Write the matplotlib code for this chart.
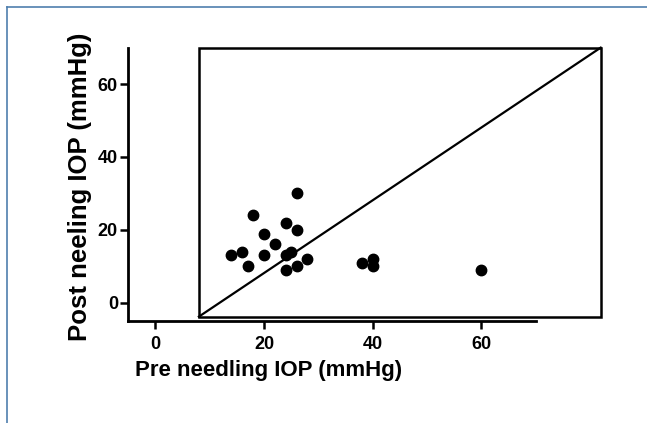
import matplotlib
matplotlib.use("Agg")
import matplotlib.pyplot as plt
from matplotlib.patches import Rectangle
from matplotlib.lines import Line2D

plt.rcParams['font.family'] = ['Liberation Sans', 'DejaVu Sans']

# values
pre_iop = [26, 18, 24, 26, 20, 22, 14, 16, 20, 24, 25, 17, 24, 26, 28, 38, 40, 40, 60]
post_iop = [30, 24, 22, 20, 19, 16, 13, 14, 13, 13, 14, 10, 9, 10, 12, 11, 12, 10, 9]
ticks = [0, 20, 40, 60]

# box + diagonal drawn over the plot
box_x = [8, 82]
box_y = [-3.8, 70]

fig = plt.figure(figsize=(6.47, 4.23), dpi=100)
ax = fig.add_axes([0.1983, 0.2411, 0.7553, 0.6635])

ax.plot(pre_iop, post_iop, 'o', color='black', markersize=7.5, clip_on=False)

ax.add_patch(Rectangle((box_x[0], box_y[0]), box_x[1] - box_x[0], box_y[1] - box_y[0],
                       fill=False, edgecolor='black', linewidth=1.8, clip_on=False))
ax.plot(box_x, box_y, color='black', linewidth=1.6, clip_on=False)

ax.set_xlim(-5, 85)
ax.set_ylim(-5, 72)
ax.spines['top'].set_visible(False)
ax.spines['right'].set_visible(False)
ax.spines['left'].set_bounds(-5, 70)
ax.spines['bottom'].set_bounds(-5, 70)
ax.spines['left'].set_linewidth(2)
ax.spines['bottom'].set_linewidth(2)

ax.set_xticks(ticks)
ax.set_yticks(ticks)
ax.tick_params(axis='both', width=1.8, length=5.5, labelsize=13)
ax.tick_params(axis='x', pad=5)
ax.tick_params(axis='y', pad=2)
for lab in ax.get_xticklabels() + ax.get_yticklabels():
    lab.set_fontweight('bold')

fig.text(269 / 647, 1 - 370 / 423, 'Pre needling IOP (mmHg)', ha='center', va='center',
         fontsize=16, fontweight='bold')
fig.text(80 / 647, 1 - 187 / 423, 'Post neeling IOP (mmHg)', ha='center', va='center',
         rotation=90, fontsize=18.5, fontweight='bold')

# frame lines of the original figure
frame_col = '#4f7fae'
fig.add_artist(Line2D([7 / 647, 1], [1 - 7 / 423, 1 - 7 / 423], color=frame_col, linewidth=1.2,
                      transform=fig.transFigure))
fig.add_artist(Line2D([7 / 647, 7 / 647], [0, 1 - 7 / 423], color=frame_col, linewidth=1.2,
                      transform=fig.transFigure))

fig.savefig('out.png', dpi=100)
